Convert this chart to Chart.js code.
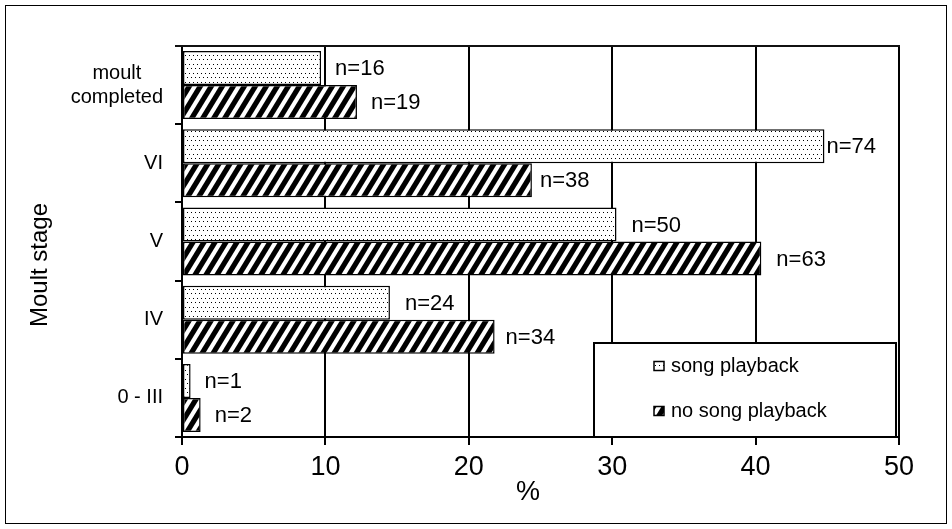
<!DOCTYPE html>
<html><head><meta charset="utf-8">
<script src="https://cdn.jsdelivr.net/npm/chart.js@4.4.1/dist/chart.umd.min.js"></script>
<style>html,body{margin:0;padding:0;background:#fff;overflow:hidden}#wrap{position:relative;width:952px;height:529px}</style>
</head><body><div id="wrap"><canvas id="c" width="952" height="529"></canvas></div>
<script>
// ---- data ----
const categories = [['moult', 'completed'], 'VI', 'V', 'IV', '0 - III'];
const seriesNames = ['song playback', 'no song playback'];
const songPlayback = [9.7, 44.8, 30.3, 14.5, 0.6];
const noSongPlayback = [12.2, 24.4, 40.4, 21.8, 1.3];
const songN = ['n=16', 'n=74', 'n=50', 'n=24', 'n=1'];
const noSongN = ['n=19', 'n=38', 'n=63', 'n=34', 'n=2'];
const xTicks = [0, 10, 20, 30, 40, 50];
const xTitle = '%';
const yTitle = 'Moult stage';

// label gaps (style, not data)
const songLabelGap = [14, 2, 15, 15, 14];
const noSongLabelGap = [14, 8, 15, 11, 14];

const FONT = '"Liberation Sans", Arial, Helvetica, sans-serif';
Chart.defaults.font.family = FONT;
Chart.defaults.color = '#000';

function dotPattern(ctx) {
  const c = document.createElement('canvas'); c.width = 8; c.height = 9;
  const g = c.getContext('2d');
  g.fillStyle = '#fff'; g.fillRect(0, 0, 8, 9);
  g.fillStyle = '#000'; g.fillRect(1, 1, 1, 1); g.fillRect(5, 1, 1, 1); g.fillRect(3, 5, 1, 1); g.fillRect(7, 5, 1, 1);
  return ctx.createPattern(c, 'repeat');
}
function hatchPattern(ctx) {
  const W = 11, H = 18;
  const c = document.createElement('canvas'); c.width = W; c.height = H;
  const g = c.getContext('2d');
  g.fillStyle = '#fff'; g.fillRect(0, 0, W, H);
  g.strokeStyle = '#000'; g.lineWidth = 5.2; g.lineCap = 'butt';
  for (const o of [-W, 0, W]) {
    g.beginPath();
    g.moveTo(o - W * 0.3, H * 1.3);
    g.lineTo(o + W * 1.3, -H * 0.3);
    g.stroke();
  }
  return ctx.createPattern(c, 'repeat');
}

const canvas = document.getElementById('c');
const ctx0 = canvas.getContext('2d');
const dots = dotPattern(ctx0);
const hatch = hatchPattern(ctx0);

const drawPlugin = {
  id: 'drawPlugin',
  beforeDraw(chart) {
    const c = chart.ctx;
    c.save(); c.fillStyle = '#fff'; c.fillRect(0, 0, chart.width, chart.height); c.restore();
  },
  afterDraw(chart) {
    const c = chart.ctx, ca = chart.chartArea;
    const ys = chart.scales.y;
    c.save();
    // outer frame
    c.strokeStyle = '#000'; c.lineWidth = 1;
    c.strokeRect(5.5, 5.5, chart.width - 11, chart.height - 11);
    // plot top border
    c.lineWidth = 2; c.strokeStyle = '#111';
    c.beginPath(); c.moveTo(ca.left - 7, ca.top); c.lineTo(ca.right + 1, ca.top); c.stroke();

    // y category labels
    c.fillStyle = '#000';
    c.font = '20px ' + FONT;
    c.textBaseline = 'middle';
    const rightX = ca.left - 19;
    categories.forEach((lab, i) => {
      const y = ys.getPixelForTick(i);
      if (Array.isArray(lab)) {
        const w = Math.max(...lab.map(l => c.measureText(l).width));
        const cx = rightX - w / 2;
        c.textAlign = 'center';
        const lh = 24;
        lab.forEach((l, k) => c.fillText(l, cx, y + (k - (lab.length - 1) / 2) * lh));
      } else {
        c.textAlign = 'right';
        c.fillText(lab, rightX, y);
      }
    });

    // axis titles
    c.font = '24px ' + FONT;
    c.textAlign = 'center';
    c.save();
    c.translate(40, 265);
    c.rotate(-Math.PI / 2);
    c.fillText(yTitle, 0, 0);
    c.restore();
    c.font = '27px ' + FONT;
    c.fillText(xTitle, 528, 493);

    // data labels
    c.font = '22px ' + FONT;
    c.textAlign = 'left';
    [[songN, songLabelGap], [noSongN, noSongLabelGap]].forEach(([labels, gaps], d) => {
      const meta = chart.getDatasetMeta(d);
      meta.data.forEach((bar, i) => {
        c.fillText(labels[i], bar.x + gaps[i], bar.y + 1);
      });
    });

    // legend
    const lx = ca.right - 305, ly = ca.bottom - 94, lw = 302, lh = 94;
    c.fillStyle = '#fff';
    c.fillRect(lx, ly, lw, lh);
    c.lineWidth = 2; c.strokeStyle = '#000';
    c.strokeRect(lx, ly, lw, lh);
    const items = [[seriesNames[0], dots, ly + 23], [seriesNames[1], hatch, ly + 68]];
    c.font = '20px ' + FONT;
    c.textBaseline = 'middle';
    items.forEach(([name, pat, yy]) => {
      c.fillStyle = pat;
      c.fillRect(lx + 60, yy - 4.5, 10, 9);
      c.lineWidth = 1.5; c.strokeStyle = '#000';
      c.strokeRect(lx + 60, yy - 4.5, 10, 9);
      c.fillStyle = '#000';
      c.fillText(name, lx + 77, yy);
    });
    c.restore();
  }
};

new Chart(canvas, {
  type: 'bar',
  data: {
    labels: categories,
    datasets: [
      { label: seriesNames[0], data: songPlayback, backgroundColor: dots, borderColor: '#000', borderWidth: 1.5, borderSkipped: false },
      { label: seriesNames[1], data: noSongPlayback, backgroundColor: hatch, borderColor: '#000', borderWidth: 1.5, borderSkipped: false }
    ]
  },
  options: {
    indexAxis: 'y',
    responsive: false,
    animation: false,
    devicePixelRatio: 1,
    layout: { padding: { left: 0, top: 46, right: 53, bottom: 0 } },
    datasets: { bar: { categoryPercentage: 0.87, barPercentage: 1.0 } },
    plugins: { legend: { display: false }, tooltip: { enabled: false }, title: { display: false } },
    scales: {
      x: {
        type: 'linear', position: 'bottom', min: xTicks[0], max: xTicks[xTicks.length - 1],
        afterBuildTicks: s => { s.ticks = xTicks.map(v => ({ value: v })); },
        ticks: { font: { size: 27 }, color: '#000', padding: 6, maxRotation: 0 },
        grid: { color: '#000', lineWidth: 2, tickLength: 8, drawTicks: true },
        border: { display: true, color: '#000', width: 2 },
        afterFit: s => { s.height = 92; }
      },
      y: {
        type: 'category',
        ticks: { display: false },
        grid: { offset: true, drawOnChartArea: false, color: '#000', lineWidth: 2, tickLength: 7, drawTicks: true },
        border: { display: true, color: '#000', width: 2 },
        afterFit: s => { s.width = 182; }
      }
    }
  },
  plugins: [drawPlugin]
});
</script>
</body></html>
